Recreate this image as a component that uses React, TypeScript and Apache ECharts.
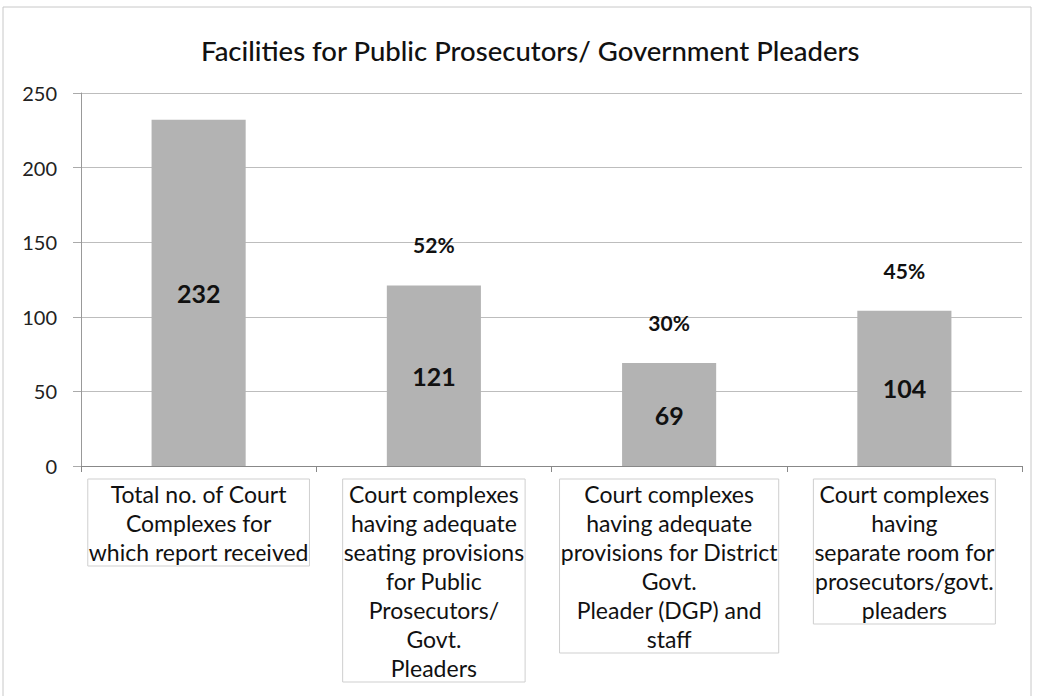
import React, { useEffect, useRef } from "react";
import * as echarts from "echarts";

const categories = [
  "Total no. of Court\nComplexes for\nwhich report received",
  "Court complexes\nhaving adequate\nseating provisions\nfor Public\nProsecutors/\nGovt.\nPleaders",
  "Court complexes\nhaving adequate\nprovisions for District\nGovt.\nPleader (DGP) and\nstaff",
  "Court complexes\nhaving\nseparate room for\nprosecutors/govt.\npleaders",
];
const counts = [232, 121, 69, 104];
const percents = ["", "52%", "30%", "45%"];
const titleText = "Facilities for Public Prosecutors/ Government Pleaders";

export default function App() {
  const ref = useRef<HTMLDivElement>(null);
  useEffect(() => {
    if (!ref.current) return;
    const chart = echarts.init(ref.current, null, { renderer: "svg" });
    const font = "Lato";
    chart.setOption({
      animation: false,
      backgroundColor: "#ffffff",
      title: {
        text: titleText,
        left: 196,
        top: 31,
        textStyle: { fontFamily: font, fontSize: 27.5, fontWeight: 500, color: "#111" },
      },
      graphic: [
        {
          type: "rect",
          shape: { x: 3, y: 7, width: 1028, height: 700 },
          style: { fill: "none", stroke: "#c8c8c8", lineWidth: 1 },
          silent: true,
        },
      ],
      grid: { left: 81, right: 16, top: 93, bottom: 230, containLabel: false },
      xAxis: {
        type: "category",
        data: categories,
        axisLine: { show: true, lineStyle: { color: "#888" } },
        axisTick: { show: true, length: 6, lineStyle: { color: "#888" } },
        axisLabel: {
          interval: 0,
          margin: 13,
          fontFamily: font,
          fontSize: 23,
          lineHeight: 29,
          color: "#111",
          borderColor: "#cfcfcf",
          borderWidth: 1,
          padding: [0, 1, 0, 1],
          verticalAlign: "top",
        },
      },
      yAxis: {
        type: "value",
        min: 0,
        max: 250,
        interval: 50,
        axisLine: { show: true, lineStyle: { color: "#999" } },
        axisTick: { show: true, length: 8, lineStyle: { color: "#aaa" } },
        splitLine: { show: true, lineStyle: { color: "#bdbdbd" } },
        axisLabel: { fontFamily: font, fontSize: 20, color: "#222", margin: 24 },
      },
      series: [
        {
          type: "bar",
          data: counts,
          barWidth: "40%",
          itemStyle: { color: "#b3b3b3" },
          label: {
            show: true,
            position: "inside",
            fontFamily: font,
            fontSize: 25,
            fontWeight: "bold",
            color: "#111",
          },
        },
        {
          type: "bar",
          data: counts,
          barWidth: "40%",
          barGap: "-100%",
          itemStyle: { color: "transparent" },
          silent: true,
          label: {
            show: true,
            position: "top",
            distance: 30,
            fontFamily: font,
            fontSize: 21,
            fontWeight: "bold",
            color: "#111",
            formatter: (p: any) => percents[p.dataIndex],
          },
        },
      ],
    });
    return () => chart.dispose();
  }, []);
  return (
    <div
      ref={ref}
      style={{ position: "fixed", left: 0, top: 0, width: 1038, height: 696 }}
    />
  );
}
